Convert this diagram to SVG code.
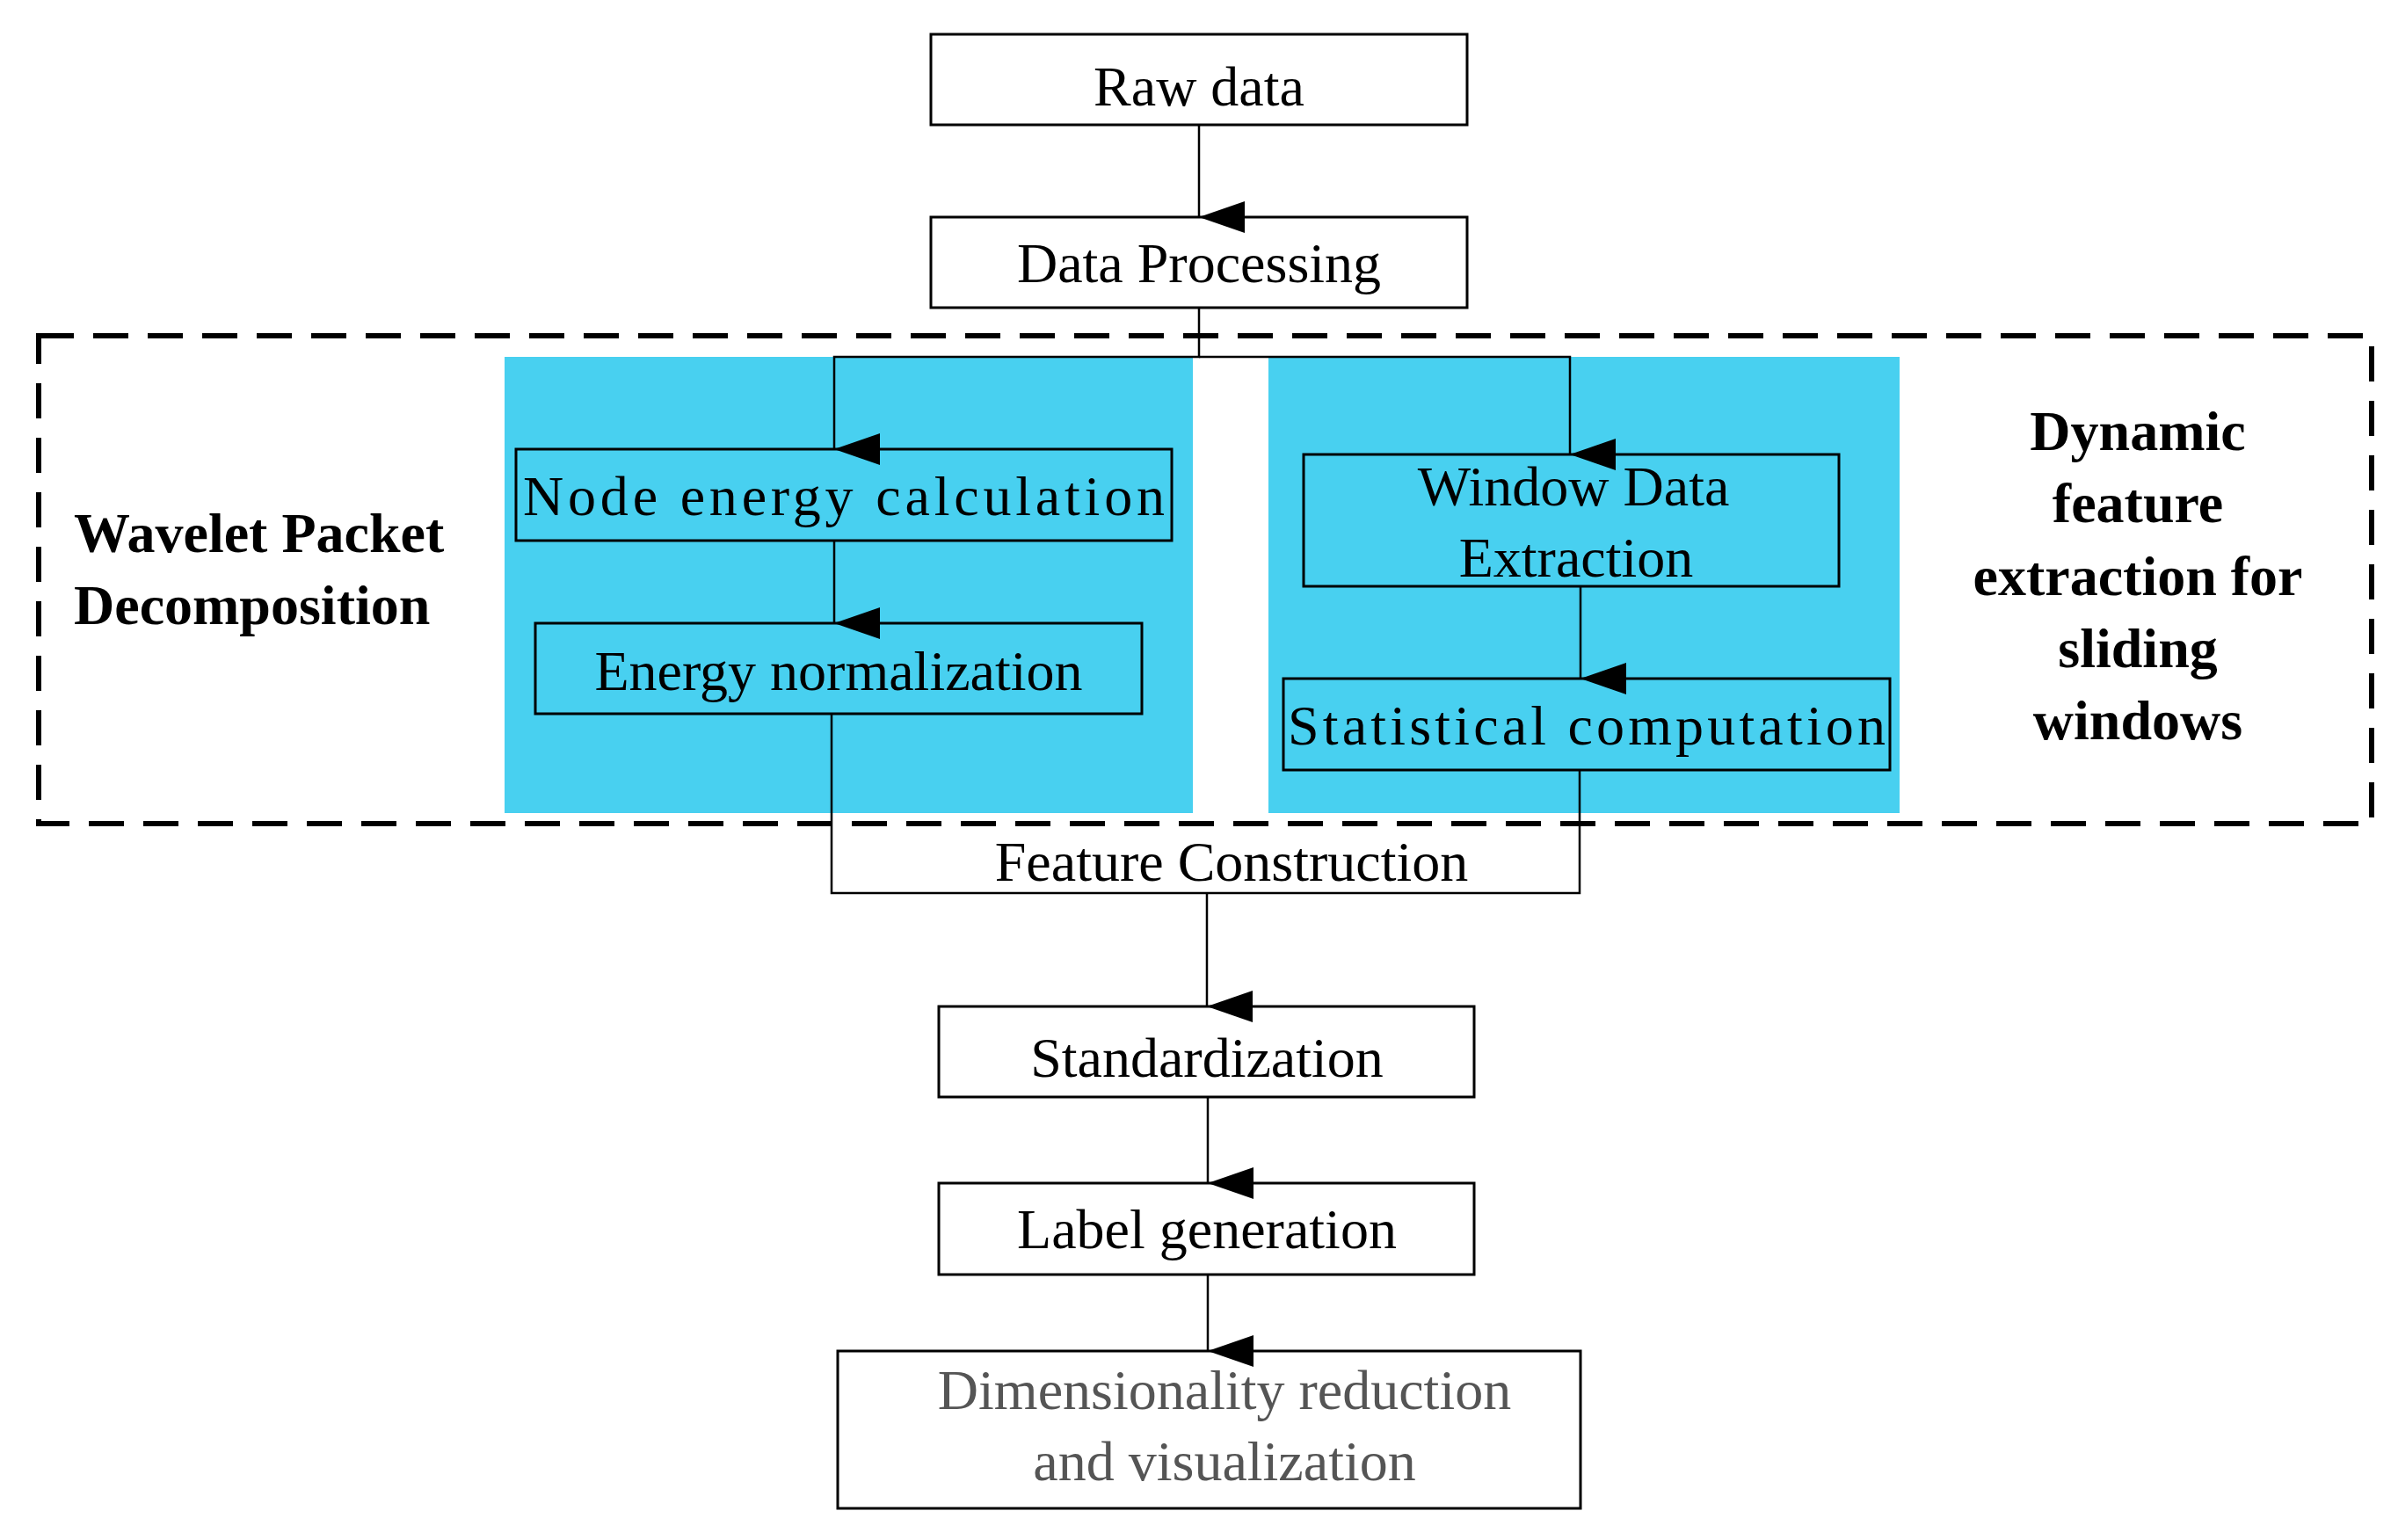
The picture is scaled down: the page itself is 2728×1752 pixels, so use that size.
<svg xmlns="http://www.w3.org/2000/svg" width="2728" height="1752" viewBox="0 0 2728 1752">
<defs>
<marker id="ah" viewBox="0 0 36 52" refX="18" refY="52" markerWidth="36" markerHeight="52" markerUnits="userSpaceOnUse" orient="auto-start-reverse">
<path d="M0,0 L36,0 L18,52 Z" fill="#000"/>
</marker>
</defs>
<style>
.b{fill:#fff;stroke:#000;stroke-width:3}
.bb{fill:none;stroke:#000;stroke-width:3}
.t{font-family:"Liberation Serif",serif;font-size:64px;text-anchor:middle;fill:#000}
.bold{font-weight:bold}
.c{fill:none;stroke:#000;stroke-width:2.5}
.blue{fill:#48d0f0}
</style>
<rect x="0" y="0" width="2728" height="1752" fill="#fff"/>
<g id="dashed"><rect x="44" y="382" width="2654" height="555" fill="none" stroke="#000" stroke-width="6" stroke-dasharray="40,22"/></g>
<g id="wpd"><rect class="blue" x="574" y="406" width="783" height="519"/>
<text class="t bold" x="84" y="628" text-anchor="start" style="text-anchor:start">Wavelet Packet</text>
<text class="t bold" x="84" y="710" style="text-anchor:start">Decomposition</text></g>
<g id="dyn"><rect class="blue" x="1443" y="406" width="718" height="519"/>
<text class="t bold" x="2432" y="512">Dynamic</text>
<text class="t bold" x="2432" y="594">feature</text>
<text class="t bold" x="2432" y="677">extraction for</text>
<text class="t bold" x="2432" y="759">sliding</text>
<text class="t bold" x="2432" y="841">windows</text></g>
<g id="raw"><rect class="b" x="1059" y="39" width="610" height="103"/><text class="t" x="1364" y="120">Raw data</text></g>
<g id="proc"><rect class="b" x="1059" y="247" width="610" height="103"/><text class="t" x="1364" y="321">Data Processing</text></g>
<g id="node"><rect class="bb" x="587" y="511" width="746" height="104"/><text class="t" x="960" y="586" textLength="730">Node energy calculation</text></g>
<g id="norm"><rect class="bb" x="609" y="709" width="690" height="103"/><text class="t" x="954" y="785">Energy normalization</text></g>
<g id="win"><rect class="bb" x="1483" y="517" width="609" height="150"/><text class="t" x="1790" y="575">Window Data</text><text class="t" x="1793" y="656">Extraction</text></g>
<g id="stat"><rect class="bb" x="1460" y="772" width="690" height="104"/><text class="t" x="1805" y="847" textLength="680">Statistical computation</text></g>
<g id="feat"><text class="t" x="1401" y="1002">Feature Construction</text></g>
<g id="std"><rect class="b" x="1068" y="1145" width="609" height="103"/><text class="t" x="1373" y="1225">Standardization</text></g>
<g id="lab"><rect class="b" x="1068" y="1346" width="609" height="104"/><text class="t" x="1373" y="1420">Label generation</text></g>
<g id="dim"><rect class="b" x="953" y="1537" width="845" height="179"/><text class="t" x="1393" y="1603" fill="#555" style="fill:#555">Dimensionality reduction</text><text class="t" x="1393" y="1684" style="fill:#555">and visualization</text></g>
<g id="connectors">
<path class="c" d="M1364,142 V247" marker-end="url(#ah)"/>
<path class="c" d="M1364,350 V406 H949 V511" marker-end="url(#ah)"/>
<path class="c" d="M1364,406 H1786 V517" marker-end="url(#ah)"/>
<path class="c" d="M949,615 V709" marker-end="url(#ah)"/>
<path class="c" d="M1798,667 V772" marker-end="url(#ah)"/>
<path class="c" d="M946,812 V1016 H1797 V876"/>
<path class="c" d="M1373,1016 V1145" marker-end="url(#ah)"/>
<path class="c" d="M1374,1248 V1346" marker-end="url(#ah)"/>
<path class="c" d="M1374,1450 V1537" marker-end="url(#ah)"/>
</g>
</svg>
